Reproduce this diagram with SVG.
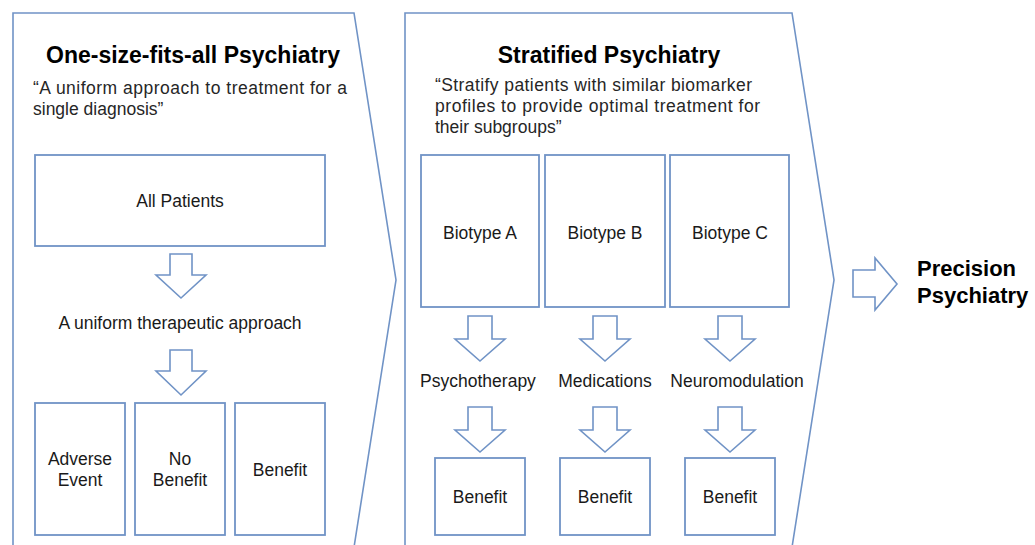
<svg xmlns="http://www.w3.org/2000/svg" width="1035" height="545" viewBox="0 0 1035 545">
<style>
.panel{fill:#fff;stroke:#7093c6;stroke-width:1.6;}
.box{fill:#fff;stroke:#7093c6;stroke-width:1.8;}
.arr{fill:#fff;stroke:#7093c6;stroke-width:1.6;stroke-linejoin:miter;}
.t{font-family:"Liberation Sans",Arial,sans-serif;font-size:17.5px;fill:#1a1a1a;text-anchor:middle;}
.q{font-family:"Liberation Sans",Arial,sans-serif;font-size:17.5px;fill:#262626;}
.h{font-family:"Liberation Sans",Arial,sans-serif;font-size:23px;font-weight:bold;fill:#000;text-anchor:middle;}
.p{font-family:"Liberation Sans",Arial,sans-serif;font-size:22px;font-weight:bold;fill:#000;}
</style>
<rect width="1035" height="545" fill="#fff"/>
<g id="panel-one-size">
<path class="panel" d="M13,560 L13,13 L354,13 L396,280 L352,560"/>
<text class="h" x="193" y="63">One-size-fits-all Psychiatry</text>
<text class="q" x="33" y="94" textLength="314" lengthAdjust="spacing">“A uniform approach to treatment for a</text>
<text class="q" x="33" y="115">single diagnosis”</text>
</g>
<g id="panel-stratified">
<path class="panel" d="M405,560 L405,13 L792,13 L834,280 L790,560"/>
<text class="h" x="609" y="63">Stratified Psychiatry</text>
<text class="q" x="435" y="91" textLength="317" lengthAdjust="spacing">“Stratify patients with similar biomarker</text>
<text class="q" x="435" y="112" textLength="325" lengthAdjust="spacing">profiles to provide optimal treatment for</text>
<text class="q" x="435" y="133">their subgroups”</text>
</g>
<g id="all-patients"><rect class="box" x="35" y="155" width="290" height="91"/><text class="t" x="180" y="207">All Patients</text></g>
<g id="uniform-approach"><text class="t" x="180" y="329">A uniform therapeutic approach</text></g>
<g id="adverse-event"><rect class="box" x="35" y="403" width="90" height="132"/><text class="t" x="80" y="465">Adverse</text><text class="t" x="80" y="486">Event</text></g>
<g id="no-benefit"><rect class="box" x="135" y="403" width="90" height="132"/><text class="t" x="180" y="465">No</text><text class="t" x="180" y="486">Benefit</text></g>
<g id="benefit-left"><rect class="box" x="235" y="403" width="90" height="132"/><text class="t" x="280" y="476">Benefit</text></g>
<g id="biotype-a"><rect class="box" x="421" y="155" width="118" height="152"/><text class="t" x="480" y="239">Biotype A</text></g>
<g id="biotype-b"><rect class="box" x="545" y="155" width="120" height="152"/><text class="t" x="605" y="239">Biotype B</text></g>
<g id="biotype-c"><rect class="box" x="670" y="155" width="119" height="152"/><text class="t" x="730" y="239">Biotype C</text></g>
<g id="psychotherapy"><text class="t" x="478" y="387">Psychotherapy</text></g>
<g id="medications"><text class="t" x="605" y="387">Medications</text></g>
<g id="neuromodulation"><text class="t" x="737" y="387">Neuromodulation</text></g>
<g id="benefit-a"><rect class="box" x="435" y="458" width="90" height="77"/><text class="t" x="480" y="503">Benefit</text></g>
<g id="benefit-b"><rect class="box" x="560" y="458" width="90" height="77"/><text class="t" x="605" y="503">Benefit</text></g>
<g id="benefit-c"><rect class="box" x="685" y="458" width="90" height="77"/><text class="t" x="730" y="503">Benefit</text></g>
<g id="precision"><text class="p" x="917" y="276">Precision</text><text class="p" x="917" y="303">Psychiatry</text></g>
<g id="connectors">
<path class="arr" d="M170,254 H192 V275 H206 L181,298 L156,275 H170 Z"/>
<path class="arr" d="M170,350 H192 V371 H206 L181,395 L156,371 H170 Z"/>
<path class="arr" d="M468,316 H492 V339 H505 L480,361 L455,339 H468 Z"/>
<path class="arr" d="M593,316 H617 V339 H630 L605,361 L580,339 H593 Z"/>
<path class="arr" d="M718,316 H742 V339 H755 L730,361 L705,339 H718 Z"/>
<path class="arr" d="M468,407 H492 V430 H505 L480,452 L455,430 H468 Z"/>
<path class="arr" d="M593,407 H617 V430 H630 L605,452 L580,430 H593 Z"/>
<path class="arr" d="M718,407 H742 V430 H755 L730,452 L705,430 H718 Z"/>
<path class="arr" d="M853,270 H875 V258 L897,284 L875,310 V297 H853 Z"/>
</g>
</svg>
